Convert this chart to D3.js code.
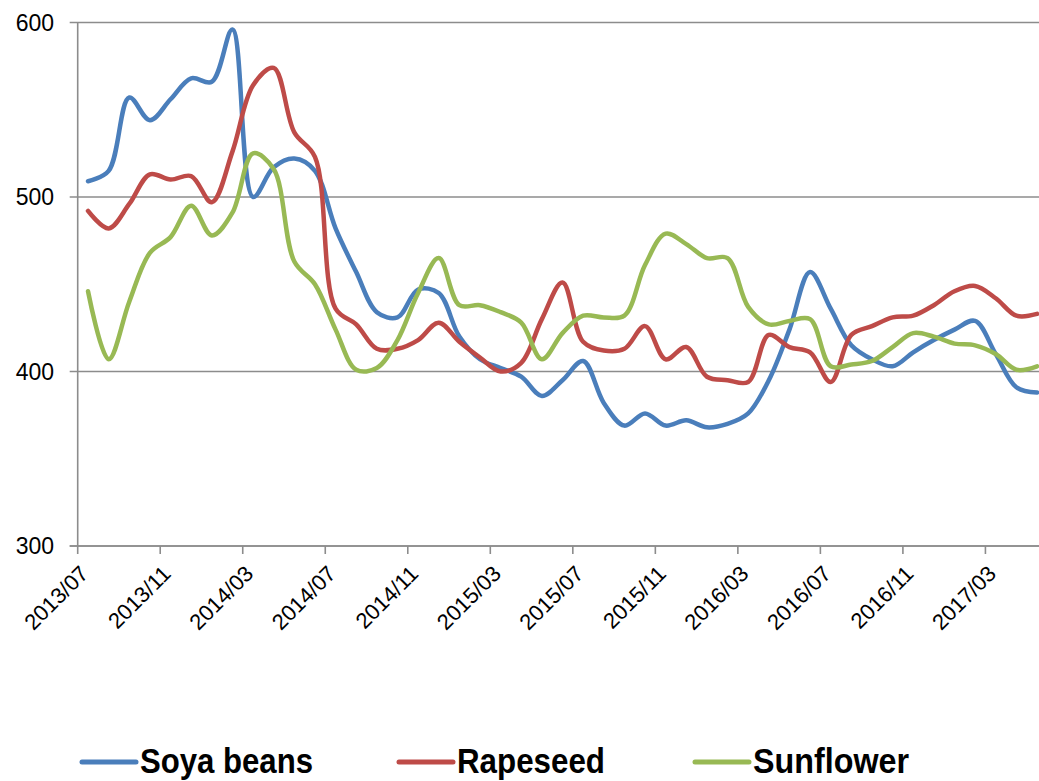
<!DOCTYPE html>
<html>
<head>
<meta charset="utf-8">
<script src="https://cdn.jsdelivr.net/npm/d3@7"></script>
<style>
  html, body { margin: 0; padding: 0; background: #fff; }
  svg { display: block; }
</style>
</head>
<body>
<svg id="chart" width="1039" height="781"></svg>
<script>
const months = [
  "2013/07","2013/08","2013/09","2013/10","2013/11","2013/12",
  "2014/01","2014/02","2014/03","2014/04","2014/05","2014/06",
  "2014/07","2014/08","2014/09","2014/10","2014/11","2014/12",
  "2015/01","2015/02","2015/03","2015/04","2015/05","2015/06",
  "2015/07","2015/08","2015/09","2015/10","2015/11","2015/12",
  "2016/01","2016/02","2016/03","2016/04","2016/05","2016/06",
  "2016/07","2016/08","2016/09","2016/10","2016/11","2016/12",
  "2017/01","2017/02","2017/03","2017/04","2017/05"
];
const seriesNames = ["Soya beans", "Rapeseed", "Sunflower"];
const soya = [509, 515, 557, 544, 556, 568, 566, 596, 500, 517, 522, 515,
              482, 457, 434, 431, 447, 445, 420, 407, 402, 397, 386, 395,
              406, 382, 369, 376, 369, 372, 368, 370, 376, 395, 424, 457,
              436, 415, 407, 403, 411, 418, 424, 429, 410, 391, 388];
const rapeseed = [492, 482, 496, 513, 510, 512, 497, 526, 564, 574, 537, 523,
                  436, 427, 413, 413, 418, 428, 417, 408, 400, 405, 430, 451,
                  417, 412, 413, 426, 407, 414, 397, 395, 394, 421, 414, 411,
                  394, 421, 426, 431, 432, 438, 446, 449, 442, 432, 433];
const sunflower = [446, 407, 440, 468, 477, 495, 478, 491, 525, 516, 463, 450,
                   424, 401, 402, 418, 445, 465, 438, 438, 434, 428, 407, 422,
                   432, 431, 432, 461, 479, 473, 465, 465, 437, 427, 429, 430,
                   403, 404, 406, 414, 422, 420, 416, 415, 410, 401, 403];
const yTicks = [300, 400, 500, 600];
const colors = ["#4a7ebb", "#be4b48", "#98b954"];

const svg = d3.select("#chart");
const plotLeft = 77.7, plotTop = 22.5, plotBottom = 546;
const step = 20.63;

const x = d3.scaleBand().domain(months)
  .range([plotLeft, plotLeft + months.length * step]).paddingInner(0).paddingOuter(0);
const y = d3.scaleLinear().domain([300, 600]).range([plotBottom, plotTop]);

// gridlines + y ticks
svg.append("g").selectAll("line").data(yTicks).join("line")
  .attr("x1", plotLeft - 8).attr("x2", 1039)
  .attr("y1", d => y(d)).attr("y2", d => y(d))
  .attr("stroke", "#8c8c8c").attr("stroke-width", 1.6);

// y axis line
svg.append("line").attr("x1", plotLeft).attr("x2", plotLeft)
  .attr("y1", y(600)).attr("y2", plotBottom + 8)
  .attr("stroke", "#8c8c8c").attr("stroke-width", 1.6);

// y labels
svg.append("g").selectAll("text").data(yTicks).join("text")
  .attr("x", 54).attr("y", d => y(d)).attr("dy", "0.36em")
  .attr("text-anchor", "end")
  .attr("font-family", "'Liberation Sans', Arial, sans-serif")
  .attr("font-size", 23).attr("fill", "#000")
  .text(d => d);

// x ticks (category boundaries every 4 months)
const tickMonths = months.filter((m, i) => i % 4 === 0);
svg.append("g").selectAll("line").data(tickMonths.slice(1)).join("line")
  .attr("x1", d => x(d)).attr("x2", d => x(d))
  .attr("y1", plotBottom).attr("y2", plotBottom + 8)
  .attr("stroke", "#8c8c8c").attr("stroke-width", 1.6);

svg.append("g").selectAll("text").data(tickMonths).join("text")
  .attr("transform", d => `translate(${x(d) + 12},${plotBottom + 29}) rotate(-45)`)
  .attr("text-anchor", "end")
  .attr("font-family", "'Liberation Sans', Arial, sans-serif")
  .attr("font-size", 22).attr("fill", "#000")
  .text(d => d);

// series lines
const allSeries = [soya, rapeseed, sunflower];
const line = d3.line()
  .x((d, i) => x(months[i]) + x.bandwidth() / 2)
  .y(d => y(d))
  .curve(d3.curveCatmullRom.alpha(0.5));

allSeries.forEach((s, k) => {
  svg.append("path").datum(s)
    .attr("d", line)
    .attr("fill", "none")
    .attr("stroke", colors[k])
    .attr("stroke-width", 4.5)
    .attr("stroke-linejoin", "round")
    .attr("stroke-linecap", "round");
});

// x axis line
svg.append("line").attr("x1", plotLeft - 8).attr("x2", 1039)
  .attr("y1", plotBottom).attr("y2", plotBottom)
  .attr("stroke", "#8c8c8c").attr("stroke-width", 1.6);

// legend
const legendX = [82, 399, 695];
const legendW = [173, 148, 156];
const lg = svg.append("g");
seriesNames.forEach((name, k) => {
  lg.append("line")
    .attr("x1", legendX[k]).attr("x2", legendX[k] + 54)
    .attr("y1", 762).attr("y2", 762)
    .attr("stroke", colors[k]).attr("stroke-width", 5)
    .attr("stroke-linecap", "round");
  lg.append("text")
    .attr("x", legendX[k] + 58).attr("y", 773)
    .attr("font-family", "'Liberation Sans Narrow', 'Arial Narrow', 'Liberation Sans', sans-serif")
    .attr("font-weight", "bold").attr("font-size", 35)
    .attr("textLength", legendW[k]).attr("lengthAdjust", "spacingAndGlyphs")
    .attr("fill", "#000")
    .text(name);
});
</script>
</body>
</html>
